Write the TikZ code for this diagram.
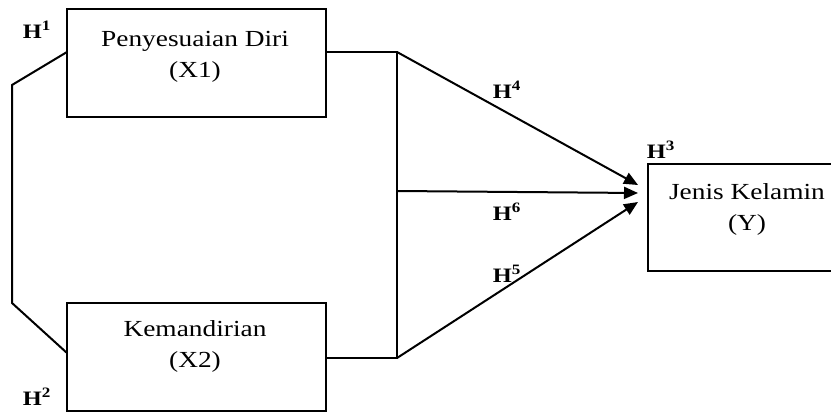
\documentclass[tikz,border=0pt]{standalone}
\usepackage{fontspec}
\setmainfont{Liberation Serif}[FakeStretch=1.19]
\usetikzlibrary{arrows.meta}

\tikzset{
  varbox/.style={draw, line width=1.9pt, rectangle, inner sep=0pt},
  vartext/.style={align=center, font=\fontsize{23}{31}\selectfont, inner sep=0pt},
  hyp/.style={font=\fontsize{20.5}{22}\selectfont\bfseries, inner sep=0pt},
  link/.style={line width=2pt, line join=miter},
  path arrow/.style={link, -{Triangle[length=14pt,width=12pt]}}
}

\begin{document}
\begin{tikzpicture}[x=1pt, y=-1pt]
  \useasboundingbox (0,0) rectangle (831,412);

  % variable boxes
  \node[varbox, minimum width=259pt, minimum height=108pt] (x1) at (196.5,63) {};
  \node[varbox, minimum width=259pt, minimum height=108pt] (x2) at (196.5,357) {};
  \node[varbox, minimum width=187pt, minimum height=107pt] (y)  at (741.5,217.5) {};

  % box texts
  \node[vartext] (tx1) at (195,57)  {Penyesuaian Diri\\(X1)};
  \node[vartext] (tx2) at (195,346) {Kemandirian\\(X2)};
  \node[vartext] (ty)  at (747,209) {Jenis Kelamin\\(Y)};

  % attachment points on the box borders
  \coordinate (x1w) at (67,52);
  \coordinate (x2w) at (67,353);
  \coordinate (x1e) at (326,52);
  \coordinate (x2e) at (326,358);
  \coordinate (lt) at (12,85);
  \coordinate (lb) at (12,303);
  \coordinate (jt) at (397,52);
  \coordinate (jm) at (397,191);
  \coordinate (jb) at (397,358);
  \coordinate (tt) at (638,185);
  \coordinate (tm) at (638,193);
  \coordinate (tb) at (638,202);

  % correlation between X1 and X2
  \draw[link] (x1w) -- (lt) -- (lb) -- (x2w);

  % joint bracket on the right
  \draw[link] (x1e) -- (jt) -- (jb) -- (x2e);

  % paths into Y
  \draw[path arrow] (jt) -- (tt);
  \draw[path arrow] (jm) -- (tm);
  \draw[path arrow] (jb) -- (tb);

  % hypothesis labels
  \node[hyp] (h1) at (37,30)   {H\textsuperscript{1}};
  \node[hyp] (h2) at (37,397)  {H\textsuperscript{2}};
  \node[hyp] (h3) at (661,150) {H\textsuperscript{3}};
  \node[hyp] (h4) at (507,90)  {H\textsuperscript{4}};
  \node[hyp] (h6) at (507,212) {H\textsuperscript{6}};
  \node[hyp] (h5) at (507,274) {H\textsuperscript{5}};
\end{tikzpicture}
\end{document}
